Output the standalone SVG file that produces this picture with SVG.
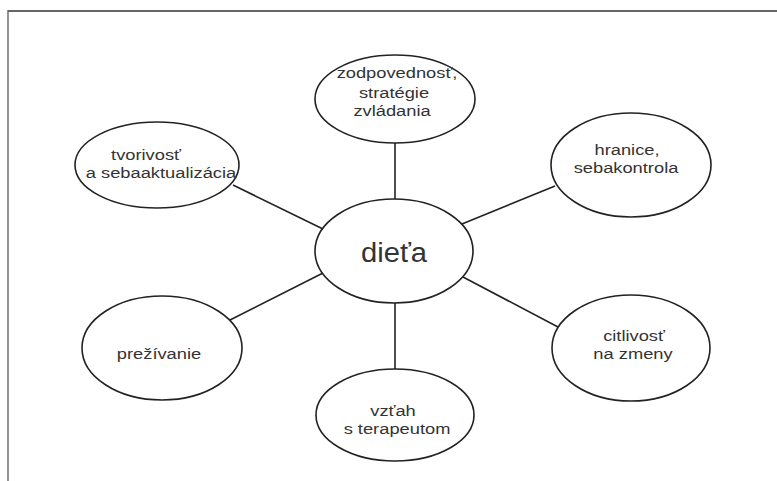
<svg xmlns="http://www.w3.org/2000/svg" width="777" height="481" viewBox="0 0 777 481">
<style>
.frame{stroke:#666;fill:none}
.node ellipse{fill:#fff;stroke:#222;stroke-width:1.6}
.node text{font-family:"Liberation Sans",Arial,sans-serif;font-size:15px;fill:#333;text-anchor:middle}
.conn line{stroke:#222;stroke-width:1.6}
</style>
<rect width="777" height="481" fill="#fff"/>
<line class="frame" x1="8" y1="11" x2="777" y2="11" stroke-width="2"/>
<line class="frame" x1="8" y1="10" x2="8" y2="481" stroke-width="1.4"/>
<g id="connectors" class="conn">
<line x1="395" y1="142" x2="395" y2="200"/>
<line x1="395" y1="302" x2="395" y2="370"/>
<line x1="233" y1="185" x2="323" y2="229"/>
<line x1="555" y1="186" x2="462" y2="224"/>
<line x1="230" y1="320" x2="323" y2="273"/>
<line x1="463" y1="277" x2="558" y2="327"/>
</g>
<g id="n-center" class="node">
<ellipse cx="394" cy="251" rx="79" ry="52"/>
<text transform="translate(394,262) scale(1.08,1)" style="font-size:27px">dieťa</text>
</g>
<g id="n-top" class="node">
<ellipse cx="395" cy="99" rx="80" ry="44"/>
<text transform="translate(397,78) scale(1.22,1)">zodpovednosť,</text>
<text transform="translate(394,98) scale(1.22,1)">stratégie</text>
<text transform="translate(392,116) scale(1.22,1)">zvládania</text>
</g>
<g id="n-topleft" class="node">
<ellipse cx="157" cy="165" rx="82" ry="43"/>
<text transform="translate(146,159.5) scale(1.22,1)">tvorivosť</text>
<text transform="translate(161,177.5) scale(1.22,1)">a sebaaktualizácia</text>
</g>
<g id="n-topright" class="node">
<ellipse cx="631" cy="165" rx="80" ry="52"/>
<text transform="translate(627,155) scale(1.22,1)">hranice,</text>
<text transform="translate(626,173) scale(1.22,1)">sebakontrola</text>
</g>
<g id="n-bottomleft" class="node">
<ellipse cx="162" cy="348" rx="80" ry="52"/>
<text transform="translate(159,359) scale(1.22,1)">prežívanie</text>
</g>
<g id="n-bottomright" class="node">
<ellipse cx="631" cy="348" rx="79" ry="53"/>
<text transform="translate(634,341) scale(1.22,1)">citlivosť</text>
<text transform="translate(633,359) scale(1.22,1)">na zmeny</text>
</g>
<g id="n-bottom" class="node">
<ellipse cx="395" cy="415" rx="79" ry="46"/>
<text transform="translate(393,416) scale(1.22,1)">vzťah</text>
<text transform="translate(397,434) scale(1.22,1)">s terapeutom</text>
</g>
</svg>
